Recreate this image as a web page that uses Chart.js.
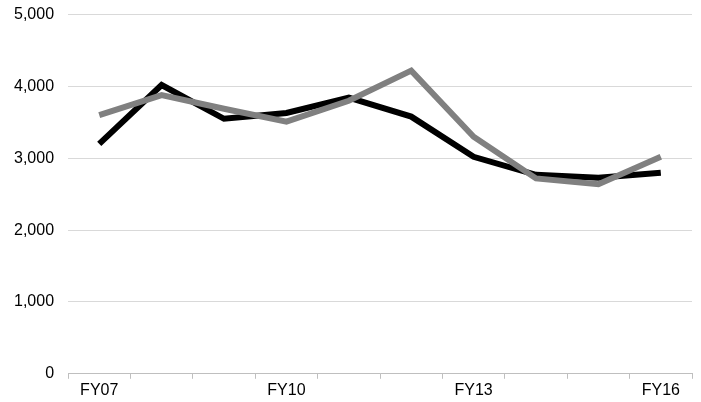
<!DOCTYPE html>
<html lang="en">
<head>
    <meta charset="UTF-8">
    <title>FY07-FY16</title>
    <style>
        html, body {
            margin: 0;
            padding: 0;
            background-color: #fff;
            overflow: hidden;
        }
        #wrap {
            width: 701px;
            height: 411px;
            margin-top: -9px; /* pull the top label padding up so 5,000 sits near the edge */
        }
    </style>
</head>
<body>
    <div id="wrap">
        <canvas id="lineChart"></canvas>
    </div>

    <script src="https://cdn.jsdelivr.net/npm/chart.js"></script>
    <script>
        var years = ['FY07', 'FY08', 'FY09', 'FY10', 'FY11', 'FY12', 'FY13', 'FY14', 'FY15', 'FY16'];
        var blackSeries = [3200, 4020, 3550, 3630, 3845, 3580, 3020, 2770, 2730, 2800];
        var graySeries = [3600, 3880, 3690, 3510, 3800, 4220, 3300, 2720, 2640, 3020];
        var yTicks = [0, 1000, 2000, 3000, 4000, 5000];

        var ctx = document.getElementById('lineChart').getContext('2d');
        // gray listed first so it is drawn on top of the black line
        var chart = new Chart(ctx, {
            type: 'line',
            data: {
                labels: years,
                datasets: [{
                    label: 'Series 2',
                    data: graySeries,
                    borderColor: '#808080',
                    borderWidth: 6,
                    pointRadius: 0,
                    tension: 0,
                    borderJoinStyle: 'miter'
                }, {
                    label: 'Series 1',
                    data: blackSeries,
                    borderColor: '#000000',
                    borderWidth: 6,
                    pointRadius: 0,
                    tension: 0,
                    borderJoinStyle: 'miter'
                }]
            },
            options: {
                responsive: true,
                maintainAspectRatio: false,
                animation: false,
                layout: {
                    padding: { top: 0, right: 9, left: 0, bottom: 0 }
                },
                plugins: {
                    legend: { display: false },
                    tooltip: { enabled: false }
                },
                scales: {
                    x: {
                        offset: true,
                        grid: {
                            offset: true,
                            drawOnChartArea: false,
                            color: '#bfbfbf',
                            tickLength: 5
                        },
                        border: { display: true, color: '#bfbfbf' },
                        ticks: {
                            autoSkip: false,
                            maxRotation: 0,
                            color: '#000',
                            font: { family: 'Liberation Sans', size: 16 },
                            padding: 2,
                            callback: function(value, index) {
                                return index % 3 === 0 ? years[index] : '';
                            }
                        }
                    },
                    y: {
                        min: 0,
                        max: 5000,
                        afterBuildTicks: function(axis) {
                            axis.ticks = yTicks.map(function(v) { return { value: v }; });
                        },
                        grid: {
                            color: '#d9d9d9',
                            drawTicks: false
                        },
                        border: { display: false },
                        ticks: {
                            color: '#000',
                            padding: 14,
                            font: { family: 'Liberation Sans', size: 16 },
                            callback: function(value) {
                                return value.toLocaleString('en-US');
                            }
                        }
                    }
                }
            }
        });
    </script>
</body>
</html>
